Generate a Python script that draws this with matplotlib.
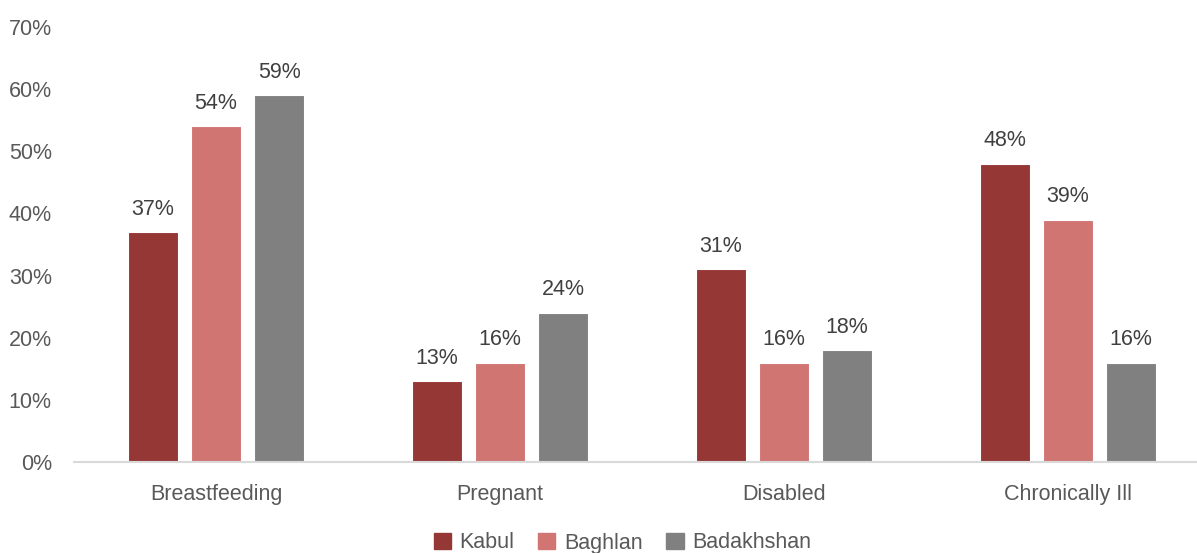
import numpy as np
import matplotlib.pyplot as plt
from matplotlib.patches import Patch

plt.rcParams['font.family'] = ['Liberation Sans Narrow', 'Liberation Sans', 'DejaVu Sans']

categories = ["Breastfeeding", "Pregnant", "Disabled", "Chronically Ill"]
regions = ["Kabul", "Baghlan", "Badakhshan"]
kabul = [37, 13, 31, 48]
baghlan = [54, 16, 16, 39]
badakhshan = [59, 24, 18, 16]
yticks = [0, 10, 20, 30, 40, 50, 60, 70]

COLORS = ["#953735", "#D07572", "#808080"]

W, H = 1197, 553
fig = plt.figure(figsize=(W / 100, H / 100), dpi=100)
# axes spans 74..1210 px horizontally (runs off the right edge), 27..462 vertically
ax = fig.add_axes([74 / W, (H - 462) / H, (1210 - 74) / W, (462 - 27) / H])

x = np.arange(len(categories))
width = 0.173
offset = 0.222
for i, (name, vals) in enumerate(zip(regions, [kabul, baghlan, badakhshan])):
    bars = ax.bar(x + (i - 1) * offset, vals, width, color=COLORS[i],
                  edgecolor="white", linewidth=0.8, label=name)
    for b, v in zip(bars, vals):
        ax.annotate(f"{v}%", (b.get_x() + b.get_width() / 2, v), xytext=(0, 9),
                    textcoords="offset points", ha="center", va="bottom",
                    fontsize=15.5, color="#404040")

ax.set_xlim(-0.5, 3.5)
ax.set_ylim(0, 70)
ax.set_yticks(yticks)
ax.set_yticklabels([f"{t}%" for t in yticks])
ax.set_xticks(x)
ax.set_xticklabels(categories)
ax.tick_params(axis="both", length=0, labelsize=15.5, colors="#595959")
ax.tick_params(axis="y", pad=16)
ax.tick_params(axis="x", pad=16)
for s in ["top", "right", "left"]:
    ax.spines[s].set_visible(False)
ax.spines["bottom"].set_color("#D9D9D9")
ax.spines["bottom"].set_linewidth(1.5)

handles = [Patch(color=c) for c in COLORS]
fig.legend(handles, regions, loc="center", bbox_to_anchor=(0.52, 10 / H), ncol=3,
           frameon=False, fontsize=15.5, handlelength=0.8, handleheight=0.8,
           handletextpad=0.4, columnspacing=1.1, labelcolor="#595959")

plt.savefig("out.png", dpi=100)
